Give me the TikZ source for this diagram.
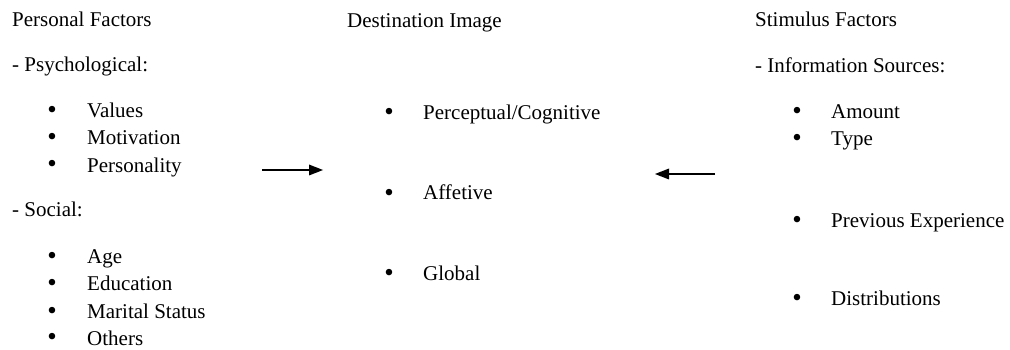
\documentclass[tikz,border=0pt]{standalone}
\usepackage{fontspec}
\setmainfont{Liberation Serif}
\newfontfamily\timesfont{Liberation Serif}
\usepackage{tikz}
\usetikzlibrary{calc}

\tikzset{
  txt/.style={anchor=base west, inner sep=0pt, font=\timesfont\fontsize{21}{25}\selectfont},
  bul/.style={anchor=base, inner sep=0pt, font=\timesfont\fontsize{27}{30}\selectfont}
}

\begin{document}
\begin{tikzpicture}[x=1pt,y=1pt]
\useasboundingbox (0,0) rectangle (1010,-350);
% left column
\node [txt] (pers) at (12,-27) {Personal Factors};
\node [txt] (psy) at (12,-72) {- Psychological:};
\node [bul] (b1) at (52,-119) {•};
\node [txt] (val) at (87,-118) {Values};
\node [bul] (b2) at (52,-146) {•};
\node [txt] (mot) at (87,-145) {Motivation};
\node [bul] (b3) at (52,-173) {•};
\node [txt] (pty) at (87,-172) {Personality};
\node [txt] (soc) at (12,-217) {- Social:};
\node [bul] (b4) at (52,-264) {•};
\node [txt] (age) at (87,-263) {Age};
\node [bul] (b5) at (52,-291) {•};
\node [txt] (edu) at (87,-290) {Education};
\node [bul] (b6) at (52,-319) {•};
\node [txt] (mar) at (87,-318) {Marital Status};
\node [bul] (b7) at (52,-345) {•};
\node [txt] (oth) at (87,-345) {Others};
% middle column
\node [txt] (dest) at (347,-28) {Destination Image};
\node [bul] (b8) at (389,-121) {•};
\node [txt] (perc) at (423,-120) {Perceptual/Cognitive};
\node [bul] (b9) at (389,-201) {•};
\node [txt] (aff) at (423,-200) {Affetive};
\node [bul] (b10) at (389,-281) {•};
\node [txt] (glob) at (423,-280) {Global};
% right column
\node [txt] (stim) at (755,-27) {Stimulus Factors};
\node [txt] (info) at (755,-73) {- Information Sources:};
\node [bul] (b11) at (797,-120) {•};
\node [txt] (amt) at (831,-119) {Amount};
\node [bul] (b12) at (797,-147) {•};
\node [txt] (typ) at (831,-146) {Type};
\node [bul] (b13) at (797,-228) {•};
\node [txt] (prev) at (831,-227) {Previous Experience};
\node [bul] (b14) at (797,-306) {•};
\node [txt] (dist) at (831,-305) {Distributions};
% arrows
\coordinate (pa1) at (262,-170);
\coordinate (pa2) at (323,-170);
\coordinate (sa1) at (715,-174);
\coordinate (sa2) at (655,-174);
\draw [black, line width=1.3pt] (pa1) -- ($(pa2)+(-8,0)$);
\fill [black] (pa2) -- ++(-14,5.5) -- ++(0,-11) -- cycle;
\draw [black, line width=1.3pt] (sa1) -- ($(sa2)+(8,0)$);
\fill [black] (sa2) -- ++(14,5.5) -- ++(0,-11) -- cycle;
\end{tikzpicture}
\end{document}
